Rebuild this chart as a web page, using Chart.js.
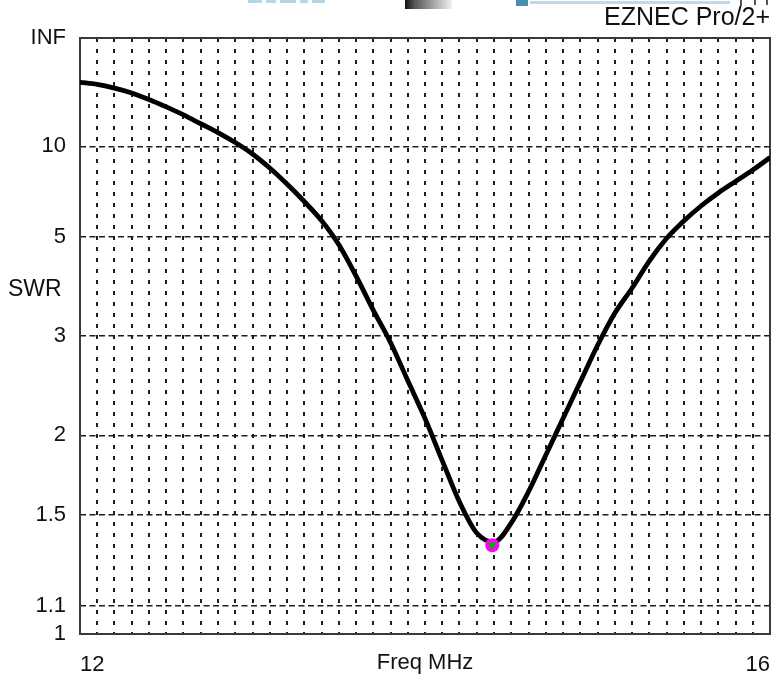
<!DOCTYPE html>
<html>
<head>
<meta charset="utf-8">
<script src="https://cdn.jsdelivr.net/npm/chart.js@4.4.1/dist/chart.umd.min.js"></script>
<style>
  html, body { margin: 0; padding: 0; background: #fff; }
  #swrChart { display: block; }
</style>
</head>
<body>
<canvas id="swrChart" width="771" height="677"></canvas>
<script>
// Frequency sweep (MHz) and SWR
const freqs = [12.0, 12.1, 12.2, 12.3, 12.4, 12.5, 12.6, 12.7, 12.8, 12.9,
               13.0, 13.1, 13.2, 13.3, 13.4, 13.5, 13.6, 13.7, 13.8, 13.9,
               14.0, 14.1, 14.2, 14.3, 14.4, 14.5, 14.6, 14.7, 14.8, 14.9,
               15.0, 15.1, 15.2, 15.3, 15.4, 15.5, 15.6, 15.7, 15.8, 15.9, 16.0];
const swrValues = [25.9, 24.7, 22.8, 20.7, 18.4, 16.3, 14.5, 12.9, 11.6, 10.4,
                   9.28, 8.17, 7.16, 6.29, 5.53, 4.77, 4.01, 3.38, 2.915, 2.48,
                   2.134, 1.821, 1.569, 1.408, 1.365, 1.458, 1.627, 1.857, 2.132, 2.465,
                   2.876, 3.33, 3.764, 4.345, 4.945, 5.514, 6.095, 6.69, 7.31, 8.03, 8.975];

// Minimum SWR marker
const minFreq = [14.39];
const minSwr = [1.35];

// Axis ticks
const swrTicks = [1, 1.1, 1.5, 2, 3, 5, 10, Infinity];
const swrTickLabels = ['1', '1.1', '1.5', '2', '3', '5', '10', 'INF'];
const freqTickValues = [12, 16];
const freqTickLabels = ['12', '16'];

const fontFamily = 'Arial, "Liberation Sans", sans-serif';
const labelFont = { family: fontFamily, size: 22 };
const textColor = '#111';

// SWR -> reflection coefficient, the way EZNEC spaces its SWR axis
function toRho(s) {
  if (s === Infinity) return 1;
  return (s - 1) / (s + 1);
}

// Custom vertical scale: linear in reflection coefficient
class SwrScale extends Chart.LinearScale {
  static id = 'swr';
  static defaults = {};
  determineDataLimits() {
    this.min = 1;
    this.max = Infinity;
  }
  buildTicks() {
    return swrTicks.map(v => ({ value: v }));
  }
  getPixelForValue(value) {
    return this.getPixelForDecimal(toRho(value));
  }
  getValueForPixel(pixel) {
    const r = this.getDecimalForPixel(pixel);
    return (1 + r) / (1 - r);
  }
}
Chart.register(SwrScale);

// grid every 0.1 MHz
const freqGrid = [];
for (let k = 0; k <= 40; k++) freqGrid.push(12 + k / 10);

// frame, SWR caption and the cut-off toolbar bits at the top edge
const framePlugin = {
  id: 'frame',
  beforeDatasetsDraw(chart) {
    const { ctx, chartArea } = chart;
    ctx.save();
    ctx.strokeStyle = '#3a3a3a';
    ctx.lineWidth = 2;
    ctx.strokeRect(chartArea.left, chartArea.top, chartArea.right - chartArea.left, chartArea.bottom - chartArea.top);
    ctx.restore();
  },
  afterDraw(chart) {
    const { ctx } = chart;
    ctx.save();
    ctx.font = '23px ' + fontFamily;
    ctx.fillStyle = textColor;
    ctx.textAlign = 'left';
    ctx.textBaseline = 'middle';
    ctx.fillText('SWR', 8, 290);

    // remains of the window toolbar, cut by the crop
    ctx.fillStyle = '#b3d6e8';
    [[248, 14], [266, 10], [280, 16], [300, 8], [312, 13]].forEach(([x, w]) => ctx.fillRect(x, 0, w, 3));
    const grad = ctx.createLinearGradient(405, 0, 452, 0);
    grad.addColorStop(0, '#111');
    grad.addColorStop(0.2, '#555');
    grad.addColorStop(1, '#f2f2f2');
    ctx.fillStyle = grad;
    ctx.fillRect(405, 0, 47, 9);
    ctx.fillStyle = '#4a8fb0';
    ctx.fillRect(516, 0, 12, 6);
    ctx.fillStyle = '#c2d9e6';
    ctx.fillRect(530, 1, 200, 3);
    ctx.fillStyle = '#555';
    [[740, 6], [754, 5], [766, 5]].forEach(([x, h]) => ctx.fillRect(x, 0, 2, h));
    ctx.restore();
  }
};

const ctx = document.getElementById('swrChart').getContext('2d');

const swrChart = new Chart(ctx, {
  type: 'line',
  data: {
    datasets: [{
      data: freqs.map((f, i) => ({ x: f, y: swrValues[i] })),
      borderColor: '#000',
      borderWidth: 4.8,
      pointRadius: 0,
      cubicInterpolationMode: 'monotone',
      order: 2
    }, {
      data: minFreq.map((f, i) => ({ x: f, y: minSwr[i] })),
      showLine: false,
      pointStyle: 'triangle',
      rotation: 180,
      pointRadius: 5,
      pointBackgroundColor: '#00b000',
      pointBorderColor: '#00b000',
      pointBorderWidth: 0,
      order: 0
    }, {
      data: minFreq.map((f, i) => ({ x: f, y: minSwr[i] })),
      showLine: false,
      pointRadius: 7,
      pointBackgroundColor: '#ff00ff',
      pointBorderColor: '#ff00ff',
      pointBorderWidth: 0,
      order: 1
    }]
  },
  options: {
    responsive: false,
    animation: false,
    devicePixelRatio: 1,
    layout: {
      autoPadding: false,
      padding: { top: 0, right: 1, left: 0, bottom: 0 }
    },
    scales: {
      x: {
        type: 'linear',
        min: 12,
        max: 16,
        afterBuildTicks: axis => { axis.ticks = freqGrid.map(v => ({ value: v })); },
        afterFit: axis => {
          axis.height = 43;
          axis.paddingLeft = 0;
          axis.paddingRight = 0;
        },
        ticks: {
          autoSkip: false,
          maxRotation: 0,
          align: 'inner',
          padding: 18,
          color: textColor,
          font: labelFont,
          callback: value => {
            const i = freqTickValues.findIndex(v => Math.abs(v - value) < 1e-6);
            return i >= 0 ? freqTickLabels[i] : '';
          }
        },
        grid: {
          color: '#1e1e1e',
          lineWidth: 2,
          drawTicks: false
        },
        border: {
          display: false,
          dash: [4, 7]
        },
        title: {
          display: true,
          text: 'Freq MHz',
          color: textColor,
          font: labelFont,
          padding: { top: 0, bottom: 1 }
        }
      },
      y: {
        type: 'swr',
        position: 'left',
        afterFit: axis => {
          axis.width = 80;
          axis.paddingTop = 0;
          axis.paddingBottom = 0;
        },
        ticks: {
          padding: 14,
          color: textColor,
          font: labelFont,
          callback: (value, index) => swrTickLabels[index]
        },
        grid: {
          color: '#1e1e1e',
          lineWidth: 1.5,
          drawTicks: false
        },
        border: {
          display: false,
          dash: [6, 3.5]
        }
      }
    },
    plugins: {
      legend: { display: false },
      tooltip: { enabled: false },
      title: {
        display: true,
        text: 'EZNEC Pro/2+',
        align: 'end',
        color: textColor,
        font: { family: fontFamily, size: 25, weight: 'normal', lineHeight: 1 },
        padding: { top: 6, bottom: 7 }
      }
    }
  },
  plugins: [framePlugin]
});
</script>
</body>
</html>
